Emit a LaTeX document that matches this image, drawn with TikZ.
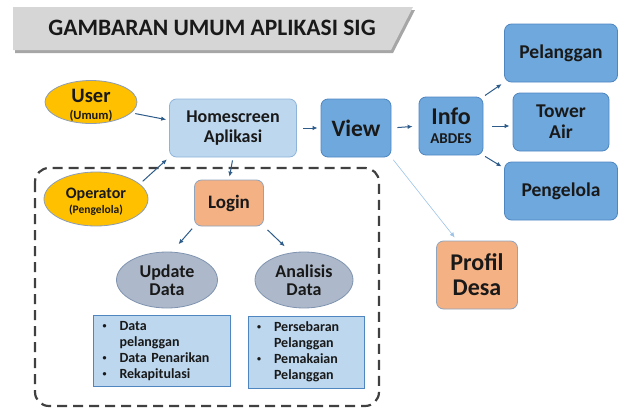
\documentclass[tikz,border=0pt]{standalone}
\usepackage{fontspec}
\setmainfont{Carlito}
\usetikzlibrary{shapes.geometric,arrows.meta}

\definecolor{judulabu}{HTML}{D6D6D6}
\definecolor{bayangan}{HTML}{A6A6A6}
\definecolor{kuning}{HTML}{FFC000}
\definecolor{kuninggaris}{HTML}{8C9DB5}
\definecolor{birumuda}{HTML}{BDD7EE}
\definecolor{birumudagaris}{HTML}{8FB4DA}
\definecolor{biru}{HTML}{6FA8DC}
\definecolor{birugaris}{HTML}{4F86C0}
\definecolor{oranye}{HTML}{F4B183}
\definecolor{oranyegaris}{HTML}{8EA4BF}
\definecolor{abu}{HTML}{ADB9CA}
\definecolor{abugaris}{HTML}{7F93B0}
\definecolor{panahbiru}{HTML}{2E5C8A}
\definecolor{garisprofil}{HTML}{9DC3E6}
\definecolor{bingkai}{HTML}{404040}

\newcommand{\huruf}[2]{\fontsize{#1}{#2}\selectfont\bfseries}
\newcommand{\titik}{\raisebox{2pt}{\fontsize{8}{8}\selectfont\textbullet}}

\tikzset{
	kotak/.style={rectangle, rounded corners=7pt, line width=0.8pt, align=center, inner sep=0pt, text=black!90, font=\huruf{19.5}{21}},
	kotakbiru/.style={kotak, draw=birugaris, fill=biru},
	kotakmuda/.style={kotak, draw=birumudagaris, fill=birumuda},
	kotakoranye/.style={kotak, draw=oranyegaris, fill=oranye},
	lonjong/.style={ellipse, line width=0.8pt, inner sep=0pt},
	aktor/.style={lonjong, draw=kuninggaris, fill=kuning},
	proses/.style={lonjong, draw=abugaris, fill=abu},
	daftar/.style={rectangle, draw=birugaris, fill=birumuda, line width=0.8pt, inner xsep=9pt, inner ysep=0pt, align=left, text=black!90, font=\huruf{14}{16}},
	panah/.style={->, draw=panahbiru, line width=1pt, shorten <=3pt, shorten >=3pt},
	>={Latex[length=5pt,width=4.5pt]}
}

\begin{document}
\begin{tikzpicture}[x=1pt,y=-1pt]
	\useasboundingbox (0,0) rectangle (621,410);

	% judul
	\fill[bayangan] (15,10) -- (415,10) -- (393,53) -- (15,53) -- cycle;
	\fill[judulabu] (13,7) -- (413,7) -- (391,50) -- (13,50) -- cycle;
	\node[font=\huruf{23.5}{26}, text=black!90] (judul) at (212,28) {GAMBARAN UMUM APLIKASI SIG};

	\draw[bingkai, line width=2.2pt, dash pattern=on 10pt off 6pt, rounded corners=14pt] (35,168) rectangle (379,406);

	\node[aktor, minimum width=92pt, minimum height=43pt, label={[align=center, text=black!90, font=\huruf{12.5}{17}, yshift=-3pt]center:{{\huruf{20.5}{20}User}\\(Umum)}}] (user) at (91,102) {};
	\node[aktor, minimum width=104pt, minimum height=54pt, label={[align=center, text=black!90, font=\huruf{11.5}{15}, yshift=-3pt]center:{{\huruf{16}{16}Operator}\\(Pengelola)}}] (operator) at (96,199) {};

	\node[kotakmuda, minimum width=127pt, minimum height=58pt, font=\huruf{18}{20}] (home) at (233,128) {Homescreen\\Aplikasi};
	\node[kotakbiru, minimum width=70pt, minimum height=58pt, font=\huruf{23.5}{26}] (view) at (356,128) {View};
	\node[kotakbiru, minimum width=64pt, minimum height=58pt, font=\huruf{15}{19}] (info) at (451,126) {{\huruf{24}{24}Info}\\ABDES};

	\node[kotakbiru, minimum width=113pt, minimum height=58pt] (pelanggan) at (561,53) {Pelanggan};
	\node[kotakbiru, minimum width=96pt, minimum height=58pt] (tower) at (561,122) {Tower\\Air};
	\node[kotakbiru, minimum width=113pt, minimum height=58pt] (pengelola) at (561,191) {Pengelola};

	\node[kotakoranye, minimum width=69pt, minimum height=46pt, font=\huruf{19}{21}] (login) at (229,203) {Login};
	\node[kotakoranye, minimum width=81pt, minimum height=68pt, font=\huruf{24}{25}] (profil) at (477,275) {Profil\\Desa};

	\node[proses, minimum width=101pt, minimum height=56pt, label={[align=center, text=black!90, font=\huruf{18}{18}]center:{Update\\Data}}] (update) at (167,280) {};
	\node[proses, minimum width=98pt, minimum height=56pt, label={[align=center, text=black!90, font=\huruf{18}{18}]center:{Analisis\\Data}}] (analisis) at (304,280) {};

	\node[daftar, text width=119pt, minimum height=71pt] (listupdate) at (162,351) {\begin{tabular}{@{}p{17pt}@{}l@{}}\titik & Data\\ & pelanggan\\ \titik & Data Penarikan\\ \titik & Rekapitulasi\end{tabular}};
	\node[daftar, text width=98pt, minimum height=72pt] (listanalisis) at (306,352) {\begin{tabular}{@{}p{17pt}@{}l@{}}\titik & Persebaran\\ & Pelanggan\\ \titik & Pemakaian\\ & Pelanggan\end{tabular}};

	\draw[panah, shorten <=4pt] (user.-15) -- (home.173);
	\draw[panah, shorten <=4pt] (operator.19) -- (home.south west);
	\draw[panah] (home.south) -- (login.north);
	\draw[panah, shorten <=6.5pt] (home.east) -- (view.west);
	\draw[panah, shorten <=6pt, shorten >=6pt] (view.east) -- (info.west);
	\draw[panah, shorten <=2pt] (info.north east) -- (pelanggan.south west);
	\draw[panah, shorten <=9pt] (info.east) -- (info.east -| tower.west);
	\draw[panah, shorten <=2pt] (info.south east) -- (pengelola.158);
	\draw[->, garisprofil, line width=0.6pt, shorten <=3pt, shorten >=4pt] (view.south east) -- (profil.120);
	\draw[panah, shorten >=10pt] (login.south west) -- (update.80);
	\draw[panah, shorten <=5pt, shorten >=9pt] (login.south east) -- (analisis.115);
\end{tikzpicture}
\end{document}
